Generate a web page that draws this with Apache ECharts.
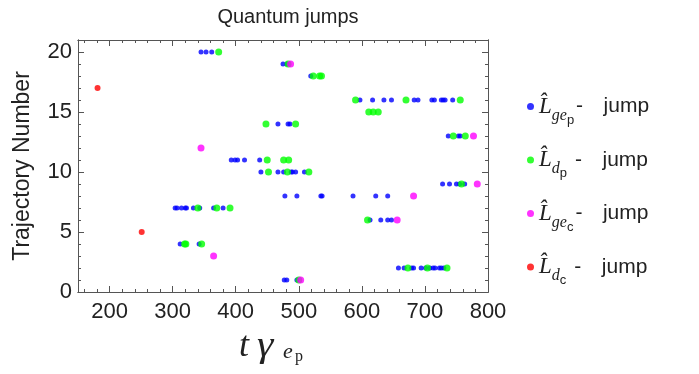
<!DOCTYPE html>
<html lang="en">
<head>
    <meta charset="UTF-8">
    <title>Quantum jumps</title>
    <script src="https://cdn.jsdelivr.net/npm/echarts@6/dist/echarts.min.js"></script>
</head>
<body style="margin:0">
<div id="main" style="width: 699px;height:374px;"></div>

<script type="text/javascript">
    // jump times [t*gamma, trajectory number], one array per jump operator
    var jumpsGeP = [
        [345, 20], [353, 20], [362, 20],
        [475, 19], [481, 19],
        [519, 18],
        [597, 16], [617, 16], [635, 16], [647, 16], [683, 16], [689, 16], [711, 16], [715, 16], [726, 16], [729, 16], [732, 16], [744, 16],
        [467, 14], [483, 14], [486, 14],
        [737, 13], [753, 13], [756, 13],
        [393, 11], [399, 11], [403, 11], [414, 11], [438, 11],
        [440, 10], [467, 10], [476, 10], [488, 10], [490, 10], [495, 10], [509, 10],
        [728, 9], [739, 9], [750, 9], [755, 9], [763, 9],
        [478, 8], [497, 8], [535, 8], [537, 8], [586, 8], [622, 8], [641, 8],
        [304, 7], [307, 7], [314, 7], [320, 7], [322, 7], [333, 7], [343, 7], [365, 7], [380, 7],
        [613, 6], [630, 6], [641, 6], [647, 6],
        [312, 4], [342, 4],
        [658, 2], [667, 2], [679, 2], [682, 2], [694, 2], [701, 2], [708, 2], [713, 2], [716, 2], [723, 2], [726, 2], [730, 2],
        [477, 1], [481, 1], [497, 1]
    ];
    var jumpsDP = [
        [373, 20],
        [483, 19],
        [523, 18], [533, 18], [536, 18],
        [590, 16], [670, 16], [756, 16],
        [611, 15], [618, 15], [626, 15],
        [448, 14], [495, 14],
        [745, 13], [764, 13],
        [450, 11], [476, 11], [484, 11],
        [452, 10], [482, 10], [516, 10],
        [758, 9],
        [340, 7], [370, 7], [391, 7],
        [609, 6],
        [319, 4], [321, 4], [346, 4],
        [673, 2], [704, 2], [735, 2],
        [500, 1]
    ];
    var jumpsGeC = [
        [487, 19], [345, 12], [777, 13], [783, 9], [682, 8], [656, 6], [365, 3], [503, 1]
    ];
    var jumpsDC = [
        [181, 17], [251, 5]
    ];

    var xTicks = [200, 300, 400, 500, 600, 700, 800];
    var yTicks = [0, 5, 10, 15, 20];

    var xMinor = [];
    for (var v = 160; v < 800; v += 20) { if (v % 100 !== 0) xMinor.push(v); }
    var yMinor = [];
    for (var w = 1; w <= 21; w++) { if (w % 5 !== 0) yMinor.push(w); }

    var frameColor = '#555';
    var sans = 'Liberation Sans';
    var serif = 'Liberation Serif';

    function frameAxis(pos, min, max, ticks, len, labels) {
        return {
            type: 'value', position: pos, min: min, max: max,
            axisLine: {show: true, onZero: false, lineStyle: {color: frameColor, width: 1}},
            axisTick: {show: true, inside: true, length: len, customValues: ticks, lineStyle: {color: frameColor}},
            axisLabel: labels ? {show: true, customValues: ticks, fontSize: 22, fontFamily: sans, color: '#222', margin: pos === 'bottom' ? 9 : 6} : {show: false},
            splitLine: {show: false}
        };
    }

    var xAxes = [
        frameAxis('bottom', 150, 800, xTicks, 6, true),
        frameAxis('bottom', 150, 800, xMinor, 3, false),
        frameAxis('top', 150, 800, xTicks, 6, false),
        frameAxis('top', 150, 800, xMinor, 3, false)
    ];
    var yAxes = [
        frameAxis('left', 0, 21, yTicks, 6, true),
        frameAxis('left', 0, 21, yMinor, 3, false),
        frameAxis('right', 0, 21, yTicks, 6, false),
        frameAxis('right', 0, 21, yMinor, 3, false)
    ];
    yAxes[0].name = 'Trajectory Number';
    yAxes[0].nameLocation = 'middle';
    yAxes[0].nameGap = 44;
    yAxes[0].nameTextStyle = {fontSize: 23, fontFamily: sans, color: '#222'};

    var legendText = {
        geP: '{L|L\u0302}{s1|ge}{s2|p}{d|-}{j|   jump}',
        dP: '{L|L\u0302}{s1|d}{s2|p}{dd|-}{j|   jump}',
        geC: '{L|L\u0302}{s1|ge}{s2|c}{d|-}{j|   jump}',
        dC: '{L|L\u0302}{s1|d}{s2|c}{dd|-}{j|   jump}'
    };

    var myChart = echarts.init(document.getElementById('main'));

    var option = {
        animation: false,
        title: {
            text: 'Quantum jumps',
            left: 283, top: 2, textAlign: 'center',
            textStyle: {fontSize: 20, fontWeight: 'normal', fontFamily: sans, color: '#222'}
        },
        grid: {left: 78, top: 40, width: 410, height: 252},
        xAxis: xAxes,
        yAxis: yAxes,
        legend: {
            orient: 'vertical', left: 527, top: 95, padding: 0,
            itemWidth: 7, itemHeight: 7, itemGap: 22, icon: 'circle',
            data: ['geP', 'dP', 'geC', 'dC'],
            formatter: function (name) { return legendText[name]; },
            textStyle: {
                color: '#222',
                rich: {
                    L: {fontFamily: serif, fontStyle: 'italic', fontSize: 23, lineHeight: 40, color: '#222'},
                    s1: {fontFamily: serif, fontStyle: 'italic', fontSize: 16, lineHeight: 16, verticalAlign: 'bottom', padding: [0, 0, 3, 0], color: '#222'},
                    s2: {fontFamily: sans, fontSize: 13, lineHeight: 13, verticalAlign: 'bottom', color: '#222'},
                    d: {fontFamily: sans, fontSize: 21, lineHeight: 40, padding: [0, 0, 0, 2], color: '#222'},
                    dd: {fontFamily: sans, fontSize: 21, lineHeight: 40, padding: [0, 0, 0, 8], color: '#222'},
                    j: {fontFamily: sans, fontSize: 21, lineHeight: 40, padding: [0, 0, 0, 3], color: '#222'}
                }
            }
        },
        graphic: [
            {type: 'text', x: 239, y: 347, style: {text: 't', fontFamily: serif, fontStyle: 'italic', fontSize: 36, fill: '#222', verticalAlign: 'middle'}},
            {type: 'text', x: 257, y: 347, scaleX: 1.15, style: {text: '\u03b3', fontFamily: serif, fontStyle: 'italic', fontSize: 36, fill: '#222', verticalAlign: 'middle'}},
            {type: 'text', x: 283, y: 352, style: {text: 'e', fontFamily: serif, fontStyle: 'italic', fontSize: 22, fill: '#222', verticalAlign: 'middle'}},
            {type: 'text', x: 295, y: 357, style: {text: 'p', fontFamily: serif, fontSize: 16, fill: '#222', verticalAlign: 'middle'}}
        ],
        series: [
            {name: 'geP', type: 'scatter', data: jumpsGeP, symbolSize: 5, itemStyle: {color: '#0000ff'}, z: 2},
            {name: 'dP', type: 'scatter', data: jumpsDP, symbolSize: 7, itemStyle: {color: '#00ff00'}, z: 3},
            {name: 'geC', type: 'scatter', data: jumpsGeC, symbolSize: 7, itemStyle: {color: '#ff00ff'}, z: 4},
            {name: 'dC', type: 'scatter', data: jumpsDC, symbolSize: 6, itemStyle: {color: '#ff0000'}, z: 5}
        ]
    };
    myChart.setOption(option);
</script>
</body>
</html>
